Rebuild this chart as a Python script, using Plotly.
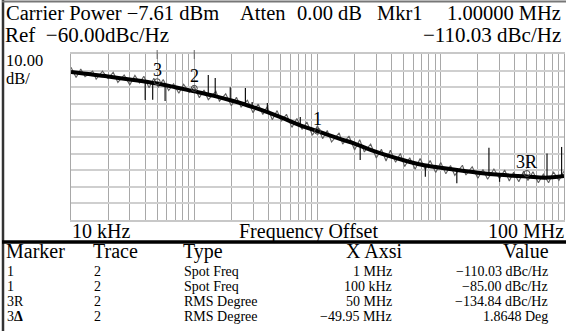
import math
import plotly.graph_objects as go

# ---------------- data ----------------
smooth_freq = [1e4, 2e4, 3e4, 5e4, 7e4, 1e5, 1.5e5, 2e5, 3e5, 5e5, 7e5, 1e6, 1.5e6,
               2e6, 3e6, 5e6, 7e6, 1e7, 1.5e7, 2e7, 3e7, 5e7, 7e7, 1e8]
smooth_level = [-70.8, -73.5, -75.3, -77.8, -80.0, -82.5, -85.5, -88.0, -92.0, -98.0,
                -102.5, -106.5, -111.0, -114.0, -119.0, -124.0, -126.7, -128.5, -130.3,
                -131.5, -132.8, -133.8, -134.5, -133.5]

raw_freq_khz = [10, 11, 12, 13, 15, 16, 18, 20, 22, 24, 27, 30, 33, 36, 39, 43, 47, 51, 56, 62, 68, 75, 82, 91,
                100, 110, 120, 130, 150, 160, 180, 200, 220, 240, 270, 300, 330, 360, 390, 430, 470, 510, 560, 620, 680, 750, 820, 910,
                1000, 1100, 1200, 1300, 1500, 1600, 1800, 2000, 2200, 2400, 2700, 3000, 3300, 3600, 3900, 4300, 4700, 5100, 5600, 6200, 6800, 7500, 8200, 9100,
                10000, 11000, 12000, 13000, 15000, 16000, 18000, 20000, 22000, 24000, 27000, 30000, 33000, 36000, 39000, 43000, 47000, 51000, 56000, 62000, 68000, 75000, 82000, 91000,
                100000]
raw_level = [-68.0, -74.2, -69.1, -73.6, -70.3, -75.2, -70.4, -74.8, -71.0, -77.1, -72.6, -78.6, -72.9, -77.4, -73.4, -80.4, -74.6, -80.1, -75.4, -82.0, -77.9, -83.7, -78.2, -83.1,
             -79.6, -86.4, -81.7, -87.5, -82.5, -88.4, -84.0, -91.2, -86.0, -92.0, -87.8, -95.4, -90.1, -96.5, -91.8, -99.6, -94.1, -100.5, -96.3, -104.2, -98.9, -105.5, -101.0, -108.9,
             -103.2, -111.0, -106.1, -113.0, -107.5, -114.3, -109.4, -117.8, -111.6, -119.0, -114.2, -122.6, -117.4, -124.5, -118.0, -125.2, -119.9, -127.8, -122.5, -129.4, -123.0, -129.6, -124.2, -131.4,
             -125.3, -132.2, -127.2, -133.1, -127.0, -132.9, -127.9, -134.8, -129.6, -135.5, -129.3, -135.1, -129.9, -136.5, -131.2, -136.9, -130.6, -136.2, -130.9, -137.6, -132.3, -137.6, -131.0, -136.1,
             -130.6]

spur_freq = [40e3, 46e3, 58e3, 130e3, 148e3, 196e3, 260e3, 295e3, 392e3, 725e3,
             2.22e6, 7.5e6, 13.5e6, 24.6e6, 30e6, 72.8e6, 95.6e6]
spur_base = [-76.5, -77.2, -78.5, -84.8, -85.7, -88.0, -90.5, -92.0, -95.0, -102.7,
             -114.5, -127.5, -129.8, -132.0, -132.8, -134.5, -133.5]
spur_peak = [-87.7, -87.5, -88.3, -72.7, -74.5, -80.0, -80.5, -88.9, -89.5, -98.0,
             -123.9, -134.0, -137.9, -116.5, -137.0, -120.0, -116.0]

marker_names = ["3", "2", "1", "3R"]
marker_freq = [50e3, 100e3, 1e6, 50e6]
marker_level = [-76.7, -80.7, -106.5, -132.0]

y_ticks = [-160, -150, -140, -130, -120, -110, -100, -90, -80, -70, -60]
x_grid_mult = [1, 2, 3, 4, 5, 6, 7, 8, 9]
x_decades = [1e4, 1e5, 1e6, 1e7]

header_left = ["Carrier Power −7.61 dBm", "Atten", "0.00 dB", "Mkr1"]
header_right = ["1.00000 MHz", "−110.03 dBc/Hz"]
ref_text = "Ref\u00a0\u00a0−60.00dBc/Hz"
scale_text = ["10.00", "dB/"]
axis_text = ["10 kHz", "Frequency Offset", "100 MHz"]

table_header = ["Marker", "Trace", "Type", "X Axsi", "Value"]
table_marker = ["1", "1", "3R", "3<b>Δ</b>"]
table_trace = ["2", "2", "2", "2"]
table_type = ["Spot Freq", "Spot Freq", "RMS Degree", "RMS Degree"]
table_x = ["1 MHz", "100 kHz", "50 MHz", "−49.95 MHz"]
table_value = ["−110.03 dBc/Hz", "−85.00 dBc/Hz", "−134.84 dBc/Hz", "1.8648 Deg"]

# ---------------- layout constants ----------------
W, H = 566, 331
L, R, T, B = 71, 2, 54, 111
PW, PH = W - L - R, H - T - B
FONT = "Liberation Serif"


def px(x):
    return (x - L) / PW


def py(y):
    return (H - B - y) / PH


fig = go.Figure()

# raw trace
fig.add_trace(go.Scatter(x=[f * 1e3 for f in raw_freq_khz], y=raw_level, mode="lines",
                         line=dict(color="#606060", width=1.1), hoverinfo="skip"))
# spurs
sx, sy = [], []
for f, b, p in zip(spur_freq, spur_base, spur_peak):
    sx += [f, f, None]
    sy += [b, p, None]
fig.add_trace(go.Scatter(x=sx, y=sy, mode="lines", line=dict(color="#111", width=1.2),
                         hoverinfo="skip"))
# averaged trace
fig.add_trace(go.Scatter(x=smooth_freq, y=smooth_level, mode="lines", line_shape="spline",
                         line=dict(color="#000", width=4), hoverinfo="skip"))
# marker symbols
fig.add_trace(go.Scatter(x=marker_freq, y=marker_level, mode="markers",
                         marker=dict(symbol="circle-open", size=6, color="#444",
                                     line=dict(width=1)),
                         cliponaxis=False, hoverinfo="skip"))

grid_x = [m * d for d in x_decades for m in x_grid_mult] + [1e8]

fig.update_xaxes(type="log", range=[4, 8], tickvals=grid_x, showticklabels=False,
                 showgrid=True, gridcolor="#a8a8a8", gridwidth=1, ticks="",
                 showline=True, mirror=True, linecolor="#c8c8c8", linewidth=2,
                 zeroline=False)
fig.update_yaxes(range=[-160, -60], tickvals=y_ticks, showticklabels=False,
                 showgrid=True, gridcolor="#cfcfcf", gridwidth=2, ticks="",
                 showline=True, mirror=True, linecolor="#a8a8a8", linewidth=1,
                 zeroline=False)

ann = []


def add(text, x, y, size, anchor="left"):
    ann.append(dict(text=text, x=px(x), y=py(y), xref="paper", yref="paper",
                    xanchor=anchor, yanchor="middle", showarrow=False,
                    font=dict(family=FONT, size=size, color="#000")))


# marker labels above the marker symbols
for name, f, lv in zip(marker_names, marker_freq, marker_level):
    ann.append(dict(text=name, x=math.log10(f), y=lv, xref="x", yref="y",
                    xanchor="center", yanchor="middle", yshift=12, showarrow=False,
                    font=dict(family=FONT, size=18, color="#000")))

# top header
add(header_left[0], 4, 13, 20.5)
add(header_left[1], 238, 13, 20.5)
add(header_left[2], 295, 13, 20.5)
add(header_left[3], 375, 13, 20.5)
add(header_right[0], 563, 13, 20.5, "right")
add(ref_text, 3, 35, 21)
add(header_right[1], 563, 35, 21, "right")
add(scale_text[0], 4, 60.5, 16.5)
add(scale_text[1], 4, 78.5, 16.5)
# axis labels
add(axis_text[0], 70, 231, 20)
add(axis_text[1], 308, 231, 20, "center")
add(axis_text[2], 566, 231, 20, "right")
# table
hy = 251
add(table_header[0], 4, hy, 20)
add(table_header[1], 91, hy, 20)
add(table_header[2], 181, hy, 20)
add(table_header[3], 374, hy, 20, "center")
add(table_header[4], 551, hy, 20, "right")
row_y = [271, 286, 301, 316]
for i, ry in enumerate(row_y):
    add(table_marker[i], 5, ry, 14)
    add(table_trace[i], 97, ry, 14, "center")
    add(table_type[i], 182, ry, 14)
    add(table_x[i], 394, ry, 14, "right")
    add(table_value[i], 550, ry, 14, "right")

shapes = [
    # frame
    dict(type="line", xref="paper", yref="paper", x0=px(3), x1=px(3), y0=py(0), y1=py(H),
         line=dict(color="#333", width=2.5)),
    dict(type="line", xref="paper", yref="paper", x0=px(2), x1=px(W), y0=py(1.5), y1=py(1.5),
         line=dict(color="#777", width=2)),
    dict(type="line", xref="paper", yref="paper", x0=px(2), x1=px(W), y0=py(242), y1=py(242),
         line=dict(color="#000", width=3.5)),
]
# small marker ticks at top edge of the graticule
for f in marker_freq[:2]:
    shapes.append(dict(type="line", xref="x", yref="paper", x0=f, x1=f,
                       y0=py(50), y1=py(59), line=dict(color="#666", width=1)))

fig.update_layout(width=W, height=H, margin=dict(l=L, r=R, t=T, b=B),
                  paper_bgcolor="white", plot_bgcolor="white", showlegend=False,
                  annotations=ann, shapes=shapes)

fig.write_html("out.html", config={"displayModeBar": False},
               post_script="document.body.style.margin='0';document.body.style.overflow='hidden';")
